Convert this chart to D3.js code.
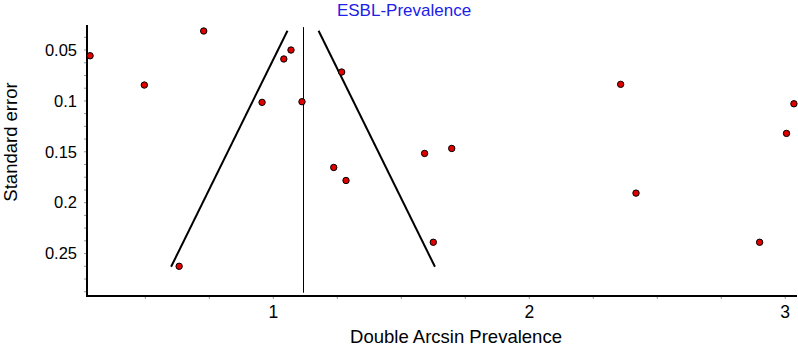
<!DOCTYPE html>
<html>
<head>
<meta charset="utf-8">
<script src="https://cdn.jsdelivr.net/npm/d3@7"></script>
<style>
  html, body { margin: 0; padding: 0; background: #fff; }
  svg { display: block; font-family: "Liberation Sans", Arial, sans-serif; }
</style>
</head>
<body>
<svg id="chart" width="798" height="350"></svg>
<script>
// study estimates (double arcsin prevalence) and their standard errors
let prevalence = [0.284, 0.728, 0.496, 1.041, 1.069, 1.267, 0.956, 1.112, 1.236, 1.284,
                  0.632, 2.357, 3.034, 3.005, 1.591, 1.697, 2.417, 1.625, 2.900]
let stdErr = [0.0556, 0.0313, 0.0844, 0.0588, 0.0500, 0.0716, 0.1014, 0.1008, 0.1654, 0.1782,
              0.2625, 0.0837, 0.1028, 0.1319, 0.1516, 0.1467, 0.1906, 0.2389, 0.2389]

// pooled estimate and funnel limits
let pooled = 1.116
let funnelSe = [0.031, 0.263]
let zCrit = 1.96

let xTicks = [1, 2, 3]
let yTicks = [0.05, 0.1, 0.15, 0.2, 0.25]
let yTickLabels = ["0.05", "0.1", "0.15", "0.2", "0.25"]
let xMinor = d3.range(0.5, 3.001, 0.25)
let yMinor = d3.range(0.0375, 0.29, 0.0125)

let margin = { left: 87, right: 1, top: 25, bottom: 54 }
let width = 798, height = 350

let svg = d3.select("#chart")

let xScale = d3.scaleLinear()
    .domain([0.272, 3.046])
    .range([margin.left, width - margin.right])
let yScale = d3.scaleLinear()
    .domain([0.0254, 0.2917])
    .range([margin.top, height - margin.bottom])

let x0 = margin.left, y0 = height - margin.bottom

// 次刻度
svg.append("g")
    .selectAll("line")
    .data(xMinor)
    .enter()
    .append("line")
    .attr("x1", d => xScale(d)).attr("x2", d => xScale(d))
    .attr("y1", y0).attr("y2", y0 + 3)
    .attr("stroke", "#999").attr("stroke-width", 1)
svg.append("g")
    .selectAll("line")
    .data(yMinor)
    .enter()
    .append("line")
    .attr("x1", x0 - 3).attr("x2", x0)
    .attr("y1", d => yScale(d)).attr("y2", d => yScale(d))
    .attr("stroke", "#999").attr("stroke-width", 1)

// 主刻度标签
svg.append("g")
    .selectAll("text")
    .data(xTicks)
    .enter()
    .append("text")
    .attr("x", d => xScale(d))
    .attr("y", y0 + 22)
    .attr("text-anchor", "middle")
    .attr("font-size", "17.5px")
    .attr("fill", "#000")
    .text(d => d)
svg.append("g")
    .selectAll("text")
    .data(yTicks)
    .enter()
    .append("text")
    .attr("x", x0 - 10)
    .attr("y", d => yScale(d))
    .attr("dy", "0.35em")
    .attr("text-anchor", "end")
    .attr("font-size", "16.5px")
    .attr("fill", "#000")
    .text((d, i) => yTickLabels[i])

// 坐标轴线
svg.append("line")
    .attr("x1", x0).attr("x2", width - margin.right)
    .attr("y1", y0).attr("y2", y0)
    .attr("stroke", "#000").attr("stroke-width", 2)
svg.append("line")
    .attr("x1", x0).attr("x2", x0)
    .attr("y1", margin.top).attr("y2", y0 + 1)
    .attr("stroke", "#000").attr("stroke-width", 2)

// pooled estimate line
let px = Math.round(xScale(pooled)) + 0.5
svg.append("line")
    .attr("x1", px).attr("x2", px)
    .attr("y1", yScale(0.0275)).attr("y2", yScale(0.2885))
    .attr("stroke", "#000").attr("stroke-width", 1)

// funnel
let funnelLine = d3.line()
    .x(d => xScale(d[0]))
    .y(d => yScale(d[1]))
;[-1, 1].forEach(function (s) {
    svg.append("path")
        .datum(funnelSe.map(se => [pooled + s * zCrit * se, se]))
        .attr("d", funnelLine)
        .attr("fill", "none")
        .attr("stroke", "#000")
        .attr("stroke-width", 2)
})

// 数据点
svg.append("g")
    .selectAll("circle")
    .data(prevalence)
    .enter()
    .append("circle")
    .attr("cx", d => xScale(d))
    .attr("cy", (d, i) => yScale(stdErr[i]))
    .attr("r", 3.2)
    .attr("fill", "#e00000")
    .attr("stroke", "#000")
    .attr("stroke-width", 1)

// titles
svg.append("text")
    .attr("x", 404).attr("y", 16)
    .attr("text-anchor", "middle")
    .attr("font-size", "17px")
    .attr("fill", "#2020e8")
    .text("ESBL-Prevalence")
svg.append("text")
    .attr("x", 456).attr("y", 343)
    .attr("text-anchor", "middle")
    .attr("font-size", "18.5px")
    .attr("fill", "#000")
    .text("Double Arcsin Prevalence")
svg.append("text")
    .attr("transform", "translate(17,142) rotate(-90)")
    .attr("text-anchor", "middle")
    .attr("font-size", "18.5px")
    .attr("fill", "#000")
    .text("Standard error")
</script>
</body>
</html>
